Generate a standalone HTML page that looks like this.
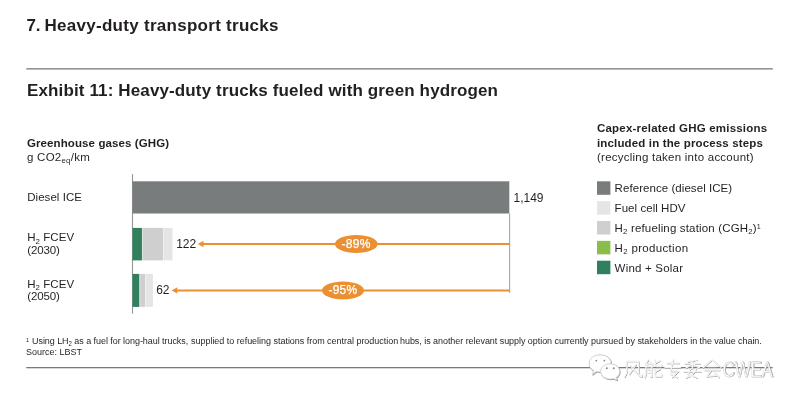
<!DOCTYPE html>
<html><head><meta charset="utf-8"><style>
html,body{margin:0;padding:0;background:#fff;width:800px;height:404px;overflow:hidden}
body{position:relative;font-family:"Liberation Sans",sans-serif}
#wrap{position:absolute;left:0;top:0;width:800px;height:404px;filter:blur(0.3px)}
.t{position:absolute;white-space:nowrap}
.r{position:absolute}
.ov{position:absolute;left:0;top:0}
.sub{font-size:0.68em;position:relative;top:0.26em;line-height:0}
.sup{font-size:0.62em;position:relative;top:-0.45em;line-height:0}
</style></head><body><div id="wrap">
<svg class="ov" width="800" height="404" viewBox="0 0 800 404"><rect x="26.3" y="68.2" width="746.5" height="1.3" fill="#7a7a7a"/><rect x="131.95" y="174.1" width="1.1" height="139.6" fill="#959595"/><rect x="132.5" y="181.3" width="376.8" height="32.2" fill="#787c7c"/><rect x="132.5" y="227.9" width="9.45" height="32.5" fill="#30805e"/><rect x="142.0" y="227.9" width="0.6" height="32.5" fill="#e2e0e0"/><rect x="142.6" y="227.9" width="20.4" height="32.5" fill="#cfcfcf"/><rect x="163.0" y="227.9" width="0.8" height="32.5" fill="#eeeeee"/><rect x="163.8" y="227.9" width="8.7" height="32.5" fill="#e5e5e5"/><rect x="132.5" y="273.9" width="7.0" height="33.0" fill="#30805e"/><rect x="139.5" y="273.9" width="0.7" height="33.0" fill="#e2e0e0"/><rect x="140.2" y="273.9" width="4.8" height="33.0" fill="#cfcfcf"/><rect x="145.0" y="273.9" width="0.6" height="33.0" fill="#eeeeee"/><rect x="145.6" y="273.9" width="7.3" height="33.0" fill="#e5e5e5"/><rect x="509.05" y="213.5" width="1.1" height="79.5" fill="#a6a6a6"/><rect x="597" y="181.3" width="13.4" height="13.5" fill="#787c7c"/><rect x="597" y="201.15" width="13.4" height="13.5" fill="#e5e5e5"/><rect x="597" y="221.0" width="13.4" height="13.5" fill="#cfcfcf"/><rect x="597" y="240.85" width="13.4" height="13.5" fill="#8cbc4c"/><rect x="597" y="260.7" width="13.4" height="13.5" fill="#30805e"/><rect x="26.2" y="367" width="746.5" height="1.3" fill="#7a7a7a"/></svg>
<div class="t" style="left:26.4px;top:16.61px;font-size:17px;line-height:17px;font-weight:bold;color:#231f20;letter-spacing:0px;">7.</div>
<div class="t" style="left:44.5px;top:16.61px;font-size:17px;line-height:17px;font-weight:bold;color:#231f20;letter-spacing:0.28px;">Heavy-duty transport trucks</div>
<div class="t" style="left:27px;top:81.91px;font-size:17px;line-height:17px;font-weight:bold;color:#231f20;letter-spacing:0.13px;">Exhibit 11: Heavy-duty trucks fueled with green hydrogen</div>
<div class="t" style="left:27px;top:137.67px;font-size:11.5px;line-height:11.5px;font-weight:bold;color:#231f20;letter-spacing:0.1px;">Greenhouse gases (GHG)</div>
<div class="t" style="left:27px;top:151.57px;font-size:11.5px;line-height:11.5px;font-weight:normal;color:#231f20;letter-spacing:0.25px;">g CO2<span class="sub">eq</span>/km</div>
<div class="t" style="left:513.6px;top:191.64px;font-size:12px;line-height:12px;font-weight:normal;color:#231f20;letter-spacing:-0.05px;">1,149</div>
<div class="t" style="left:27.2px;top:191.97px;font-size:11.5px;line-height:11.5px;font-weight:normal;color:#231f20;letter-spacing:0.05px;">Diesel ICE</div>
<div class="t" style="left:176.3px;top:238.44px;font-size:12px;line-height:12px;font-weight:normal;color:#231f20;letter-spacing:-0.1px;">122</div>
<div class="t" style="left:27.2px;top:232.47px;font-size:11.5px;line-height:11.5px;font-weight:normal;color:#231f20;letter-spacing:0.06px;">H<span class="sub">2</span> FCEV</div>
<div class="t" style="left:27.2px;top:244.67px;font-size:11.5px;line-height:11.5px;font-weight:normal;color:#231f20;letter-spacing:-0.1px;">(2030)</div>
<div class="t" style="left:156.2px;top:284.14px;font-size:12px;line-height:12px;font-weight:normal;color:#231f20;letter-spacing:-0.1px;">62</div>
<div class="t" style="left:27.2px;top:278.77px;font-size:11.5px;line-height:11.5px;font-weight:normal;color:#231f20;letter-spacing:0.06px;">H<span class="sub">2</span> FCEV</div>
<div class="t" style="left:27.2px;top:290.97px;font-size:11.5px;line-height:11.5px;font-weight:normal;color:#231f20;letter-spacing:-0.1px;">(2050)</div>
<svg class="ov" width="800" height="404" viewBox="0 0 800 404">
<line x1="201" y1="244" x2="510" y2="244" stroke="#eb9032" stroke-width="2"/>
<polygon points="197.8,244 203.5,240.8 203.5,247.2" fill="#eb9032"/>
<ellipse cx="356.3" cy="243.9" rx="21.3" ry="9" fill="#eb9032"/>
<line x1="175" y1="290.4" x2="510" y2="290.4" stroke="#eb9032" stroke-width="2"/>
<polygon points="171.6,290.4 177.3,287.2 177.3,293.6" fill="#eb9032"/>
<ellipse cx="343" cy="290.4" rx="21" ry="9" fill="#eb9032"/>
</svg>
<div class="t" style="left:341.6px;top:238.24px;font-size:12px;line-height:12px;font-weight:normal;color:#fff;letter-spacing:0.25px;-webkit-text-stroke:0.25px #fff;">-89%</div>
<div class="t" style="left:328.4px;top:284.44px;font-size:12px;line-height:12px;font-weight:normal;color:#fff;letter-spacing:0.25px;-webkit-text-stroke:0.25px #fff;">-95%</div>
<div class="t" style="left:597px;top:123.47px;font-size:11.5px;line-height:11.5px;font-weight:bold;color:#231f20;letter-spacing:0.2px;">Capex-related GHG emissions</div>
<div class="t" style="left:597px;top:138.07px;font-size:11.5px;line-height:11.5px;font-weight:bold;color:#231f20;letter-spacing:0.15px;">included in the process steps</div>
<div class="t" style="left:597px;top:152.17px;font-size:11.5px;line-height:11.5px;font-weight:normal;color:#231f20;letter-spacing:0.24px;">(recycling taken into account)</div>
<div class="t" style="left:614.6px;top:183.32px;font-size:11.5px;line-height:11.5px;font-weight:normal;color:#231f20;letter-spacing:0.06px;">Reference (diesel ICE)</div>
<div class="t" style="left:614.6px;top:203.12px;font-size:11.5px;line-height:11.5px;font-weight:normal;color:#231f20;letter-spacing:0.05px;">Fuel cell HDV</div>
<div class="t" style="left:614.6px;top:222.92px;font-size:11.5px;line-height:11.5px;font-weight:normal;color:#231f20;letter-spacing:0.16px;">H<span class="sub">2</span> refueling station (CGH<span class="sub">2</span>)<span class="sup">1</span></div>
<div class="t" style="left:614.6px;top:242.72px;font-size:11.5px;line-height:11.5px;font-weight:normal;color:#231f20;letter-spacing:0.33px;">H<span class="sub">2</span> production</div>
<div class="t" style="left:614.6px;top:262.52px;font-size:11.5px;line-height:11.5px;font-weight:normal;color:#231f20;letter-spacing:0.21px;">Wind + Solar</div>
<div class="t" style="left:26.2px;top:336.39px;font-size:9.7px;line-height:9.7px;font-weight:normal;color:#231f20;letter-spacing:0px;transform:scaleX(0.928);transform-origin:0 0;"><span class="sup">1</span></div>
<div class="t" style="left:32.0px;top:336.39px;font-size:9.7px;line-height:9.7px;font-weight:normal;color:#231f20;letter-spacing:-0.056px;transform:scaleX(0.928);transform-origin:0 0;">Using LH<span class="sub">2</span> as a fuel for long-haul trucks,</div>
<div class="t" style="left:190.6px;top:336.39px;font-size:9.7px;line-height:9.7px;font-weight:normal;color:#231f20;letter-spacing:-0.024px;transform:scaleX(0.928);transform-origin:0 0;">supplied to refueling stations from central production</div>
<div class="t" style="left:400.3px;top:336.39px;font-size:9.7px;line-height:9.7px;font-weight:normal;color:#231f20;letter-spacing:-0.052px;transform:scaleX(0.928);transform-origin:0 0;">hubs, is another relevant supply option currently</div>
<div class="t" style="left:591.3px;top:336.39px;font-size:9.7px;line-height:9.7px;font-weight:normal;color:#231f20;letter-spacing:-0.055px;transform:scaleX(0.928);transform-origin:0 0;">pursued by stakeholders in the value chain.</div>
<div class="t" style="left:26.2px;top:347.09px;font-size:9.7px;line-height:9.7px;font-weight:normal;color:#231f20;letter-spacing:0px;transform:scaleX(0.928);transform-origin:0 0;">Source: LBST</div>
<svg class="ov" style="filter:grayscale(1)" width="800" height="404" viewBox="0 0 800 404" fill="none" stroke-linecap="round" stroke-linejoin="round">
<g transform="translate(0.5,0.6)" stroke="#9a9a9a" stroke-width="1.1"><path d="M600,354.8 C606.5,354.8 611,358.6 611,363.4 C611,368.2 606.5,372 600,372 C598.6,372 597.4,371.8 596.2,371.4 L592.6,374.6 L593.6,370.6 C590.8,369 589.2,366.4 589.2,363.4 C589.2,358.6 593.6,354.8 600,354.8 Z" fill="none"/><path d="M610.2,363.8 C615.6,363.8 619.6,367.2 619.6,371.4 C619.6,374 618.2,376.2 616,377.6 L617,380.2 L613.6,378.6 C612.5,378.9 611.4,379 610.2,379 C604.8,379 600.6,375.6 600.6,371.4 C600.6,367.2 604.8,363.8 610.2,363.8 Z" fill="none"/></g><g transform="translate(0,0)" stroke="#d2d2d2" stroke-width="1.0"><path d="M600,354.8 C606.5,354.8 611,358.6 611,363.4 C611,368.2 606.5,372 600,372 C598.6,372 597.4,371.8 596.2,371.4 L592.6,374.6 L593.6,370.6 C590.8,369 589.2,366.4 589.2,363.4 C589.2,358.6 593.6,354.8 600,354.8 Z" fill="#fff"/><path d="M610.2,363.8 C615.6,363.8 619.6,367.2 619.6,371.4 C619.6,374 618.2,376.2 616,377.6 L617,380.2 L613.6,378.6 C612.5,378.9 611.4,379 610.2,379 C604.8,379 600.6,375.6 600.6,371.4 C600.6,367.2 604.8,363.8 610.2,363.8 Z" fill="#fff"/></g><g fill="#888" stroke="none"><circle cx="596.3" cy="360.6" r="0.9"/><circle cx="604.3" cy="360.6" r="0.9"/><circle cx="606.8" cy="368.2" r="1"/><circle cx="613.8" cy="368.2" r="1"/></g>
<g transform="translate(623.60,358.9) scale(0.97)"><path d="M3.5,2.5 L3.5,12 Q3.2,16 1,18.8 M3.5,2.5 L15.5,2.5 L15.5,15.5 Q15.8,18 18.8,18.6 L19.2,15.8 M12.8,6 L6,15.8 M7,7.2 L13.8,15" stroke="#828282" stroke-width="1.05" transform="translate(0.45,0.55)"/><path d="M3.5,2.5 L3.5,12 Q3.2,16 1,18.8 M3.5,2.5 L15.5,2.5 L15.5,15.5 Q15.8,18 18.8,18.6 L19.2,15.8 M12.8,6 L6,15.8 M7,7.2 L13.8,15" stroke="#e6e6e6" stroke-width="1.4"/><path d="M3.5,2.5 L3.5,12 Q3.2,16 1,18.8 M3.5,2.5 L15.5,2.5 L15.5,15.5 Q15.8,18 18.8,18.6 L19.2,15.8 M12.8,6 L6,15.8 M7,7.2 L13.8,15" stroke="#ffffff" stroke-width="0.6"/></g>
<g transform="translate(643.30,358.9) scale(0.97)"><path d="M5.2,1 L2.2,5.6 L9,5 M7,3.2 L9.5,6.2 M2.6,8 L2.6,16 Q2.4,18 1.6,19.2 M2.6,8 L9,8 L9,18.4 L7.6,18.8 M2.6,11.5 L9,11.5 M2.6,14.6 L9,14.6 M17,2 L12.6,4.4 M12.2,1 L12.2,6.6 Q12.2,7.8 14,7.8 L18.6,7.8 L18.8,6 M17.2,10.6 L12.6,13.2 M12.2,10 L12.2,17 Q12.2,18.4 14,18.4 L18.6,18.4 L18.8,16" stroke="#828282" stroke-width="1.05" transform="translate(0.45,0.55)"/><path d="M5.2,1 L2.2,5.6 L9,5 M7,3.2 L9.5,6.2 M2.6,8 L2.6,16 Q2.4,18 1.6,19.2 M2.6,8 L9,8 L9,18.4 L7.6,18.8 M2.6,11.5 L9,11.5 M2.6,14.6 L9,14.6 M17,2 L12.6,4.4 M12.2,1 L12.2,6.6 Q12.2,7.8 14,7.8 L18.6,7.8 L18.8,6 M17.2,10.6 L12.6,13.2 M12.2,10 L12.2,17 Q12.2,18.4 14,18.4 L18.6,18.4 L18.8,16" stroke="#e6e6e6" stroke-width="1.4"/><path d="M5.2,1 L2.2,5.6 L9,5 M7,3.2 L9.5,6.2 M2.6,8 L2.6,16 Q2.4,18 1.6,19.2 M2.6,8 L9,8 L9,18.4 L7.6,18.8 M2.6,11.5 L9,11.5 M2.6,14.6 L9,14.6 M17,2 L12.6,4.4 M12.2,1 L12.2,6.6 Q12.2,7.8 14,7.8 L18.6,7.8 L18.8,6 M17.2,10.6 L12.6,13.2 M12.2,10 L12.2,17 Q12.2,18.4 14,18.4 L18.6,18.4 L18.8,16" stroke="#ffffff" stroke-width="0.6"/></g>
<g transform="translate(663.00,358.9) scale(0.97)"><path d="M4,4.4 L16.4,4.4 M2,9 L18,9 M10.6,0.8 L8,12.6 L16,12.6 L9.6,19 M8,15.6 L14.8,19.2" stroke="#828282" stroke-width="1.05" transform="translate(0.45,0.55)"/><path d="M4,4.4 L16.4,4.4 M2,9 L18,9 M10.6,0.8 L8,12.6 L16,12.6 L9.6,19 M8,15.6 L14.8,19.2" stroke="#e6e6e6" stroke-width="1.4"/><path d="M4,4.4 L16.4,4.4 M2,9 L18,9 M10.6,0.8 L8,12.6 L16,12.6 L9.6,19 M8,15.6 L14.8,19.2" stroke="#ffffff" stroke-width="0.6"/></g>
<g transform="translate(682.70,358.9) scale(0.97)"><path d="M14.5,1.2 L5.5,2.8 M2.2,5.2 L17.8,5.2 M10,2.4 L10,10 M9.6,5.6 L3,9.6 M10.4,5.6 L17.2,9.2 M8.2,10.2 L5.2,15.6 L14.8,19.4 M13.6,10.4 Q11.5,17 3.6,19.4 M1.4,13.4 L18.6,13.4" stroke="#828282" stroke-width="1.05" transform="translate(0.45,0.55)"/><path d="M14.5,1.2 L5.5,2.8 M2.2,5.2 L17.8,5.2 M10,2.4 L10,10 M9.6,5.6 L3,9.6 M10.4,5.6 L17.2,9.2 M8.2,10.2 L5.2,15.6 L14.8,19.4 M13.6,10.4 Q11.5,17 3.6,19.4 M1.4,13.4 L18.6,13.4" stroke="#e6e6e6" stroke-width="1.4"/><path d="M14.5,1.2 L5.5,2.8 M2.2,5.2 L17.8,5.2 M10,2.4 L10,10 M9.6,5.6 L3,9.6 M10.4,5.6 L17.2,9.2 M8.2,10.2 L5.2,15.6 L14.8,19.4 M13.6,10.4 Q11.5,17 3.6,19.4 M1.4,13.4 L18.6,13.4" stroke="#ffffff" stroke-width="0.6"/></g>
<g transform="translate(702.40,358.9) scale(0.97)"><path d="M10,0.8 L0.8,9 M10,0.8 L19.2,8.6 M5.8,7.8 L14.2,7.8 M2.2,11.6 L17.8,11.6 M9.4,11.6 L4.4,18 L16,17.2 M12.8,14.4 L17.2,19" stroke="#828282" stroke-width="1.05" transform="translate(0.45,0.55)"/><path d="M10,0.8 L0.8,9 M10,0.8 L19.2,8.6 M5.8,7.8 L14.2,7.8 M2.2,11.6 L17.8,11.6 M9.4,11.6 L4.4,18 L16,17.2 M12.8,14.4 L17.2,19" stroke="#e6e6e6" stroke-width="1.4"/><path d="M10,0.8 L0.8,9 M10,0.8 L19.2,8.6 M5.8,7.8 L14.2,7.8 M2.2,11.6 L17.8,11.6 M9.4,11.6 L4.4,18 L16,17.2 M12.8,14.4 L17.2,19" stroke="#ffffff" stroke-width="0.6"/></g>
<text x="0" y="0" transform="translate(723.3,377.3) scale(0.775,1)" font-family="Liberation Sans" font-size="21.8" fill="#8f8f8f" stroke="#8f8f8f" stroke-width="0.3" letter-spacing="-0.2">CWEA</text>
<text x="0" y="0" transform="translate(722.6,376.6) scale(0.775,1)" font-family="Liberation Sans" font-size="21.8" fill="#fff" stroke="#d0d0d0" stroke-width="0.5" letter-spacing="-0.2">CWEA</text>
</svg>
</div></body></html>
